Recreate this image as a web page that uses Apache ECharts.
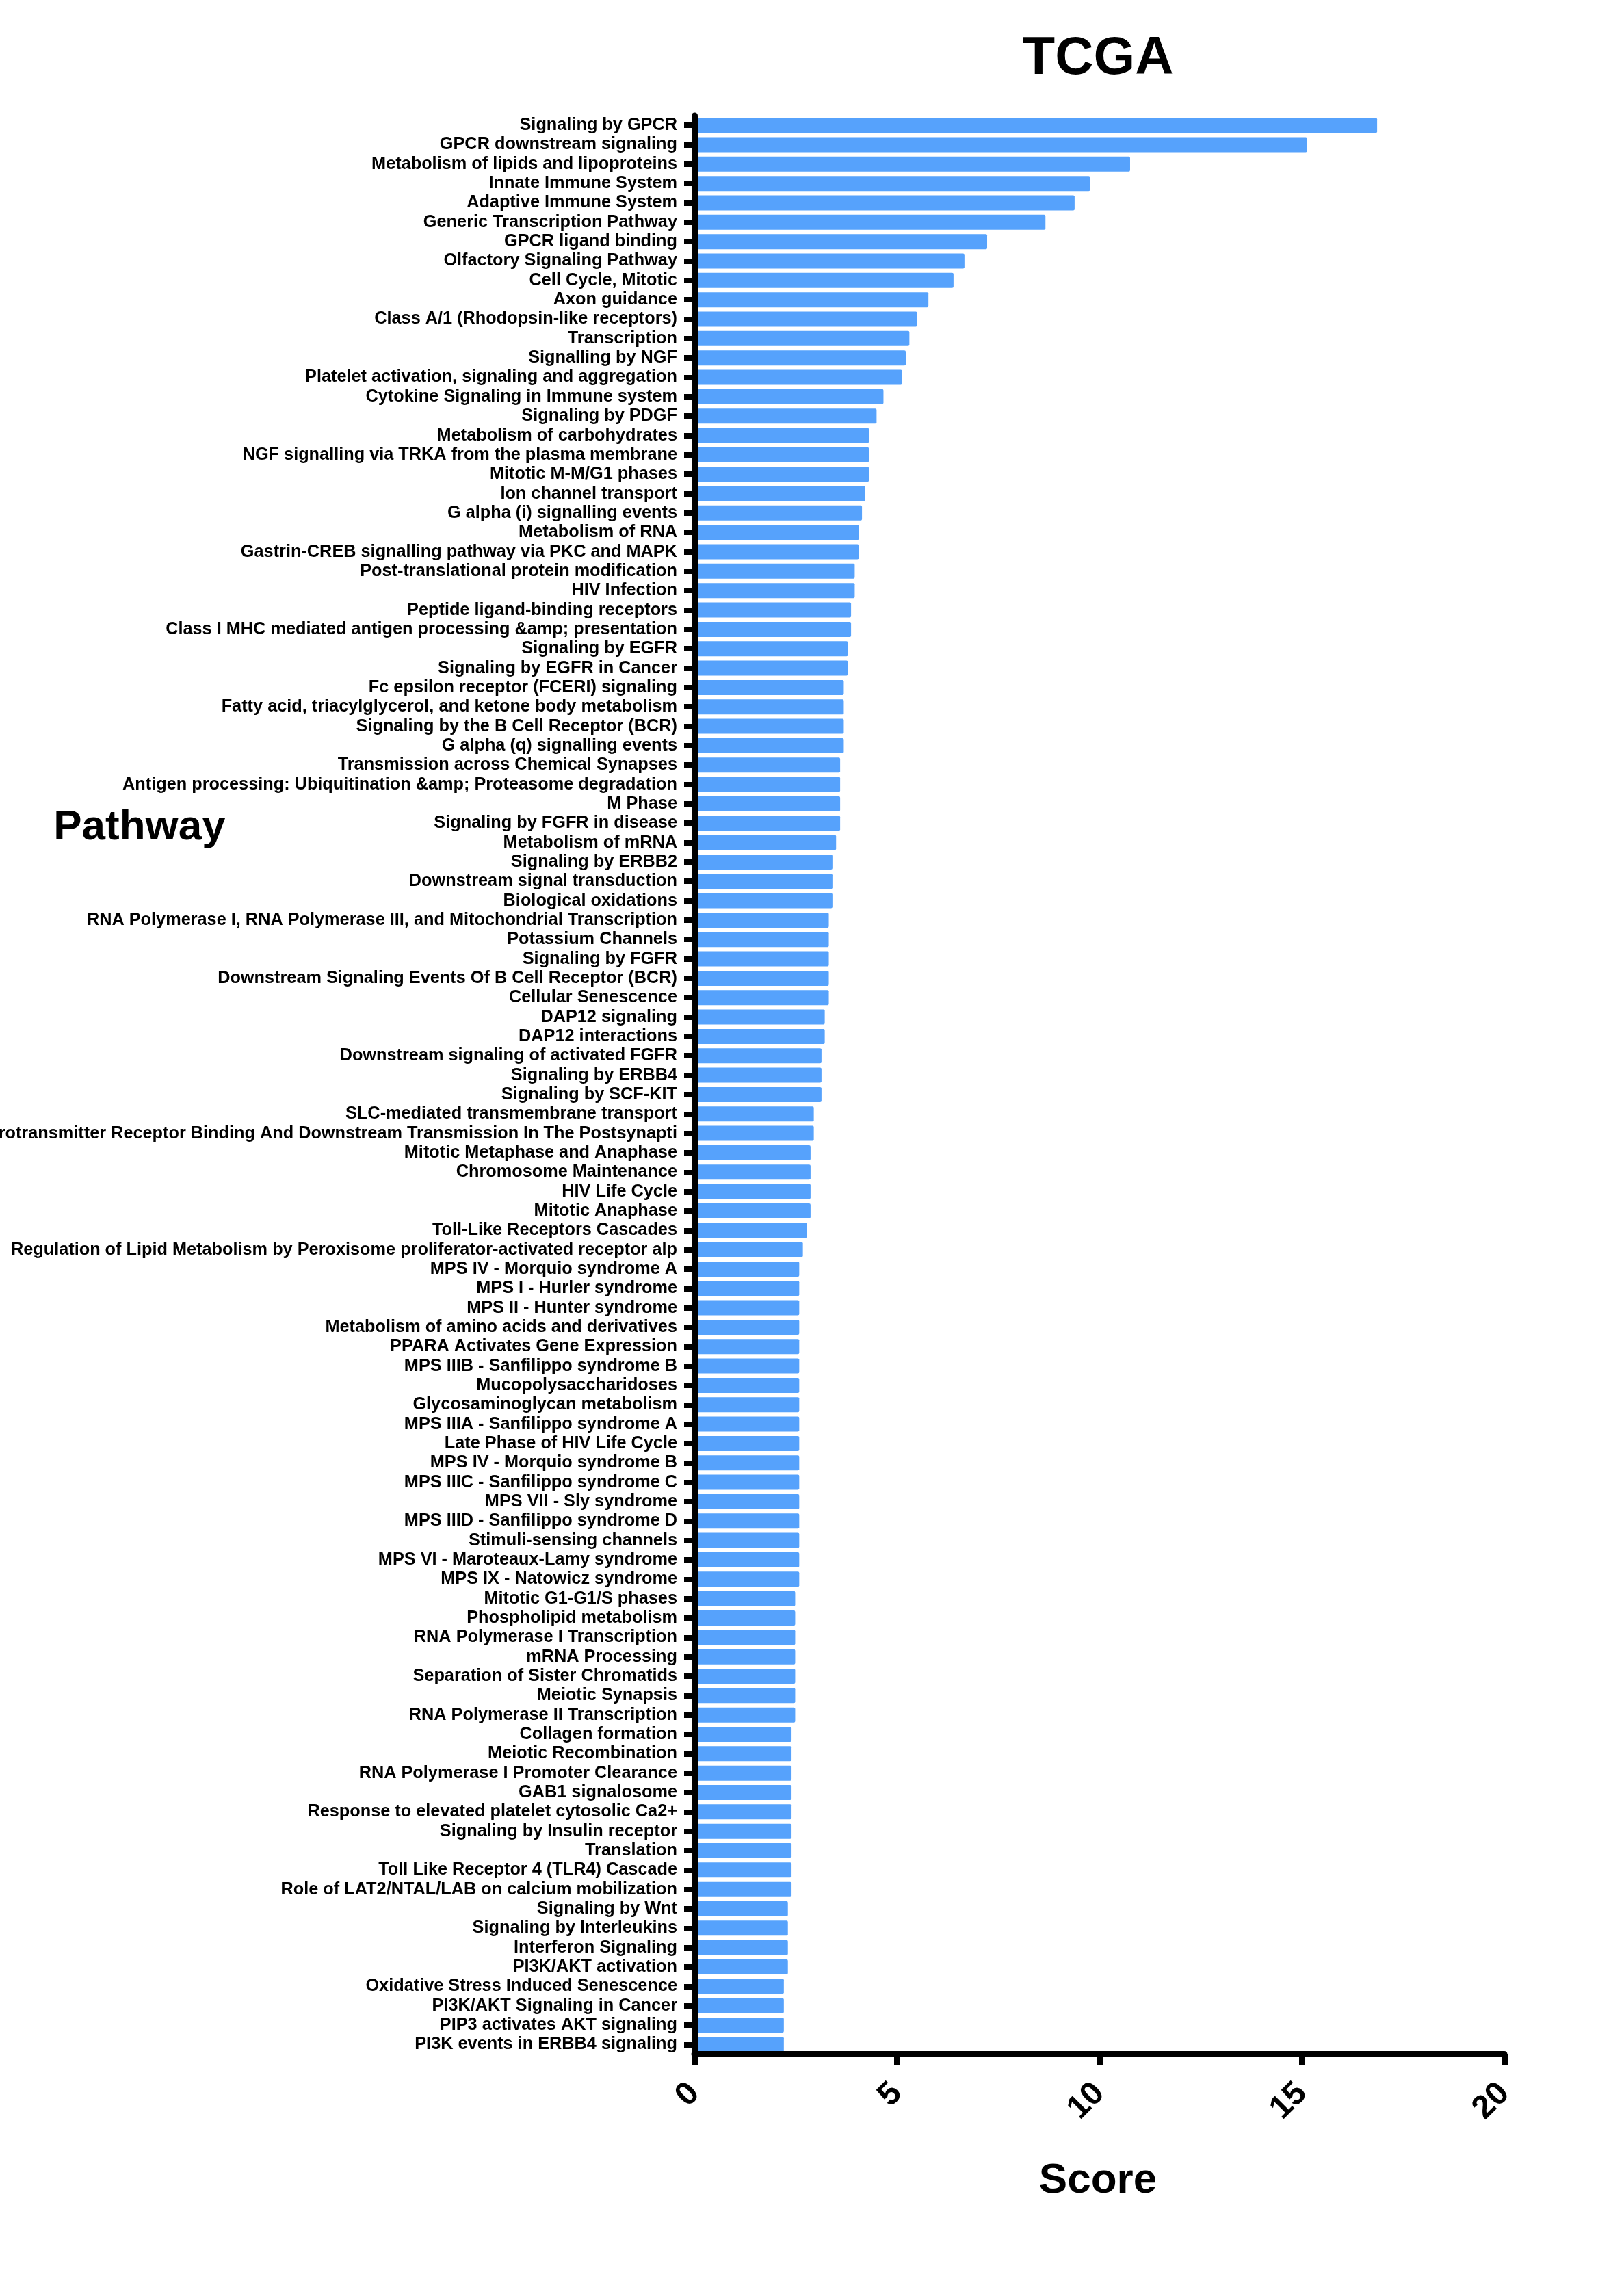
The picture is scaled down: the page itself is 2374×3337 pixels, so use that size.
<!DOCTYPE html>
<html>
<head>
<meta charset="utf-8">
<script src="https://cdn.jsdelivr.net/npm/echarts@6/dist/echarts.min.js"></script>
<style>
html,body{margin:0;padding:0;background:#fff;}
#chart{width:2374px;height:3337px;}
</style>
</head>
<body>
<div id="chart"></div>
<script>
const pathways = [
  "Signaling by GPCR",
  "GPCR downstream signaling",
  "Metabolism of lipids and lipoproteins",
  "Innate Immune System",
  "Adaptive Immune System",
  "Generic Transcription Pathway",
  "GPCR ligand binding",
  "Olfactory Signaling Pathway",
  "Cell Cycle, Mitotic",
  "Axon guidance",
  "Class A/1 (Rhodopsin-like receptors)",
  "Transcription",
  "Signalling by NGF",
  "Platelet activation, signaling and aggregation",
  "Cytokine Signaling in Immune system",
  "Signaling by PDGF",
  "Metabolism of carbohydrates",
  "NGF signalling via TRKA from the plasma membrane",
  "Mitotic M-M/G1 phases",
  "Ion channel transport",
  "G alpha (i) signalling events",
  "Metabolism of RNA",
  "Gastrin-CREB signalling pathway via PKC and MAPK",
  "Post-translational protein modification",
  "HIV Infection",
  "Peptide ligand-binding receptors",
  "Class I MHC mediated antigen processing &amp; presentation",
  "Signaling by EGFR",
  "Signaling by EGFR in Cancer",
  "Fc epsilon receptor (FCERI) signaling",
  "Fatty acid, triacylglycerol, and ketone body metabolism",
  "Signaling by the B Cell Receptor (BCR)",
  "G alpha (q) signalling events",
  "Transmission across Chemical Synapses",
  "Antigen processing: Ubiquitination &amp; Proteasome degradation",
  "M Phase",
  "Signaling by FGFR in disease",
  "Metabolism of mRNA",
  "Signaling by ERBB2",
  "Downstream signal transduction",
  "Biological oxidations",
  "RNA Polymerase I, RNA Polymerase III, and Mitochondrial Transcription",
  "Potassium Channels",
  "Signaling by FGFR",
  "Downstream Signaling Events Of B Cell Receptor (BCR)",
  "Cellular Senescence",
  "DAP12 signaling",
  "DAP12 interactions",
  "Downstream signaling of activated FGFR",
  "Signaling by ERBB4",
  "Signaling by SCF-KIT",
  "SLC-mediated transmembrane transport",
  "Neurotransmitter Receptor Binding And Downstream Transmission In The Postsynapti",
  "Mitotic Metaphase and Anaphase",
  "Chromosome Maintenance",
  "HIV Life Cycle",
  "Mitotic Anaphase",
  "Toll-Like Receptors Cascades",
  "Regulation of Lipid Metabolism by Peroxisome proliferator-activated receptor alp",
  "MPS IV - Morquio syndrome A",
  "MPS I - Hurler syndrome",
  "MPS II - Hunter syndrome",
  "Metabolism of amino acids and derivatives",
  "PPARA Activates Gene Expression",
  "MPS IIIB - Sanfilippo syndrome B",
  "Mucopolysaccharidoses",
  "Glycosaminoglycan metabolism",
  "MPS IIIA - Sanfilippo syndrome A",
  "Late Phase of HIV Life Cycle",
  "MPS IV - Morquio syndrome B",
  "MPS IIIC - Sanfilippo syndrome C",
  "MPS VII - Sly syndrome",
  "MPS IIID - Sanfilippo syndrome D",
  "Stimuli-sensing channels",
  "MPS VI - Maroteaux-Lamy syndrome",
  "MPS IX - Natowicz syndrome",
  "Mitotic G1-G1/S phases",
  "Phospholipid metabolism",
  "RNA Polymerase I Transcription",
  "mRNA Processing",
  "Separation of Sister Chromatids",
  "Meiotic Synapsis",
  "RNA Polymerase II Transcription",
  "Collagen formation",
  "Meiotic Recombination",
  "RNA Polymerase I Promoter Clearance",
  "GAB1 signalosome",
  "Response to elevated platelet cytosolic Ca2+",
  "Signaling by Insulin receptor",
  "Translation",
  "Toll Like Receptor 4 (TLR4) Cascade",
  "Role of LAT2/NTAL/LAB on calcium mobilization",
  "Signaling by Wnt",
  "Signaling by Interleukins",
  "Interferon Signaling",
  "PI3K/AKT activation",
  "Oxidative Stress Induced Senescence",
  "PI3K/AKT Signaling in Cancer",
  "PIP3 activates AKT signaling",
  "PI3K events in ERBB4 signaling"
];

const scores = [
  16.86, 15.13, 10.76, 9.77, 9.39, 8.67, 7.23, 6.67, 6.40, 5.78,
  5.50, 5.31, 5.22, 5.13, 4.67, 4.50, 4.31, 4.31, 4.31, 4.22,
  4.14, 4.06, 4.06, 3.96, 3.96, 3.87, 3.87, 3.79, 3.79, 3.69,
  3.69, 3.69, 3.69, 3.60, 3.60, 3.60, 3.60, 3.50, 3.41, 3.41,
  3.41, 3.32, 3.32, 3.32, 3.32, 3.32, 3.22, 3.22, 3.14, 3.14,
  3.14, 2.95, 2.95, 2.87, 2.87, 2.87, 2.87, 2.78, 2.68, 2.59,
  2.59, 2.59, 2.59, 2.59, 2.59, 2.59, 2.59, 2.59, 2.59, 2.59,
  2.59, 2.59, 2.59, 2.59, 2.59, 2.59, 2.49, 2.49, 2.49, 2.49,
  2.49, 2.49, 2.49, 2.40, 2.40, 2.40, 2.40, 2.40, 2.40, 2.40,
  2.40, 2.40, 2.31, 2.31, 2.31, 2.31, 2.21, 2.21, 2.21, 2.21
];

const scoreTicks = [0, 5, 10, 15, 20];

const FONT = "'Liberation Sans', Arial, Helvetica, sans-serif";
const chart = echarts.init(document.getElementById('chart'), null, {renderer: 'canvas'});

chart.setOption({
  backgroundColor: '#ffffff',
  animation: false,
  grid: {left: 1015, right: 175, top: 169, bottom: 334.5, containLabel: false, outerBoundsMode: 'none'},
  xAxis: {
    type: 'value',
    z: 10,
    min: scoreTicks[0],
    max: scoreTicks[scoreTicks.length - 1],
    interval: scoreTicks[1] - scoreTicks[0],
    axisLine: {show: true, lineStyle: {color: '#000', width: 9}},
    axisTick: {show: true, length: 16, lineStyle: {color: '#000', width: 9}},
    splitLine: {show: false},
    axisLabel: {
      rotate: 45, margin: 50, color: '#000',
      fontFamily: FONT, fontWeight: 'bold', fontSize: 48
    }
  },
  yAxis: {
    type: 'category',
    z: 10,
    inverse: true,
    data: pathways,
    axisLine: {show: true, lineStyle: {color: '#000', width: 9}},
    axisTick: {show: true, alignWithLabel: true, length: 15, lineStyle: {color: '#000', width: 8}},
    axisLabel: {
      interval: 0, margin: 25, color: '#000',
      fontFamily: FONT, fontWeight: 'bold', fontSize: 25.3
    }
  },
  series: [{
    type: 'bar',
    data: scores,
    barWidth: 22,
    itemStyle: {color: '#56a2fc', borderRadius: 2}
  }],
  graphic: [
    {type: 'text', style: {text: 'TCGA', x: 1605, y: 86, align: 'center', verticalAlign: 'middle', font: "bold 78px 'Liberation Sans', Arial, sans-serif", fill: '#000'}},
    {type: 'text', style: {text: 'Pathway', x: 204, y: 1210, align: 'center', verticalAlign: 'middle', font: "bold 62px 'Liberation Sans', Arial, sans-serif", fill: '#000'}},
    {type: 'text', style: {text: 'Score', x: 1605, y: 3188, align: 'center', verticalAlign: 'middle', font: "bold 62px 'Liberation Sans', Arial, sans-serif", fill: '#000'}}
  ]
});
</script>
</body>
</html>
